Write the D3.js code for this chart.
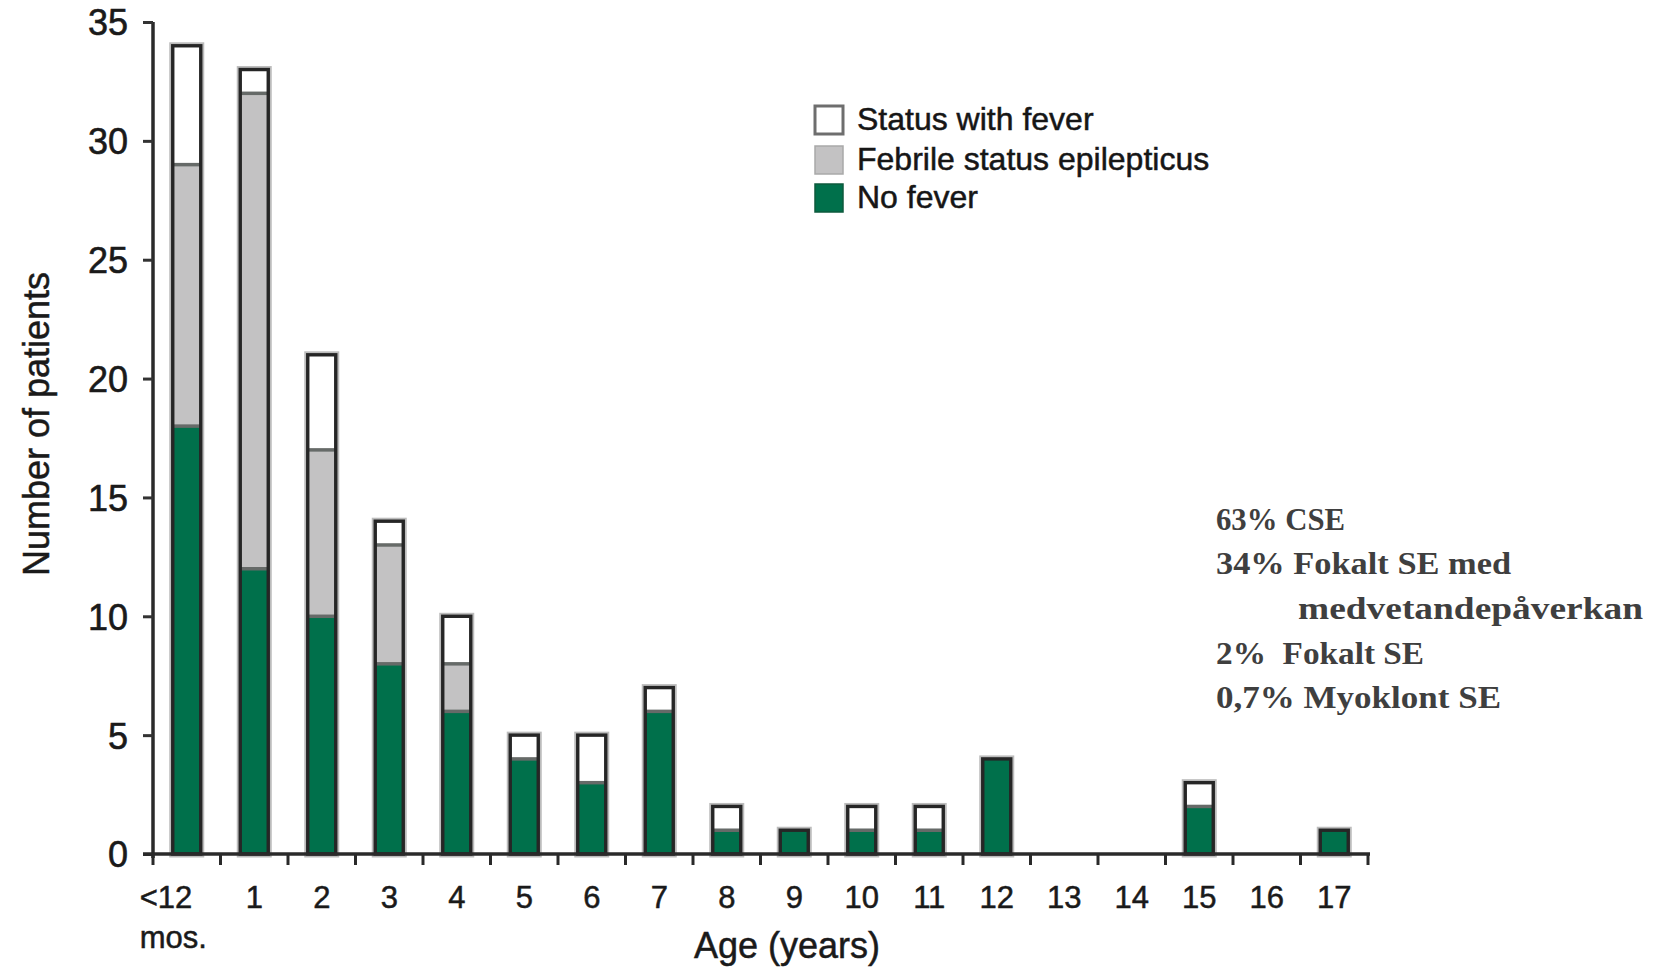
<!DOCTYPE html>
<html>
<head>
<meta charset="utf-8">
<script src="https://cdn.jsdelivr.net/npm/d3@7"></script>
<style>
  html, body { margin: 0; padding: 0; background: #fff; }
  svg { display: block; }
  text { white-space: pre; }
</style>
</head>
<body>
<svg id="chart" width="1672" height="968"></svg>
<script>
// ---------- DATA ----------
const categories = ["<12 mos.", "1", "2", "3", "4", "5", "6", "7", "8", "9", "10", "11", "12", "13", "14", "15", "16", "17"];
const noFever         = [18, 12, 10, 8, 6, 4, 3, 6, 1, 1, 1, 1, 4, 0, 0, 2, 0, 1];
const febrileSE       = [11, 20,  7, 5, 2, 0, 0, 0, 0, 0, 0, 0, 0, 0, 0, 0, 0, 0];
const statusWithFever = [ 5,  1,  4, 1, 2, 1, 2, 1, 1, 0, 1, 1, 0, 0, 0, 1, 0, 0];
const yTicks = [0, 5, 10, 15, 20, 25, 30, 35];
const seriesKeys = ["noFever", "febrileSE", "statusWithFever"];
const legendLabels = ["Status with fever", "Febrile status epilepticus", "No fever"];
const legendKeys = ["statusWithFever", "febrileSE", "noFever"];
const xTitle = "Age (years)";
const yTitle = "Number of patients";
const noteLines = ["63% CSE", "34% Fokalt SE med", "medvetandepåverkan", "2%  Fokalt SE", "0,7% Myoklont SE"];

// ---------- STYLE ----------
const colors = { noFever: "#00704b", febrileSE: "#c3c2c3", statusWithFever: "#ffffff" };
const sans = "'Liberation Sans', Arial, sans-serif";
const serif = "'Liberation Serif', 'Times New Roman', serif";
const ink = "#1a1a1a";

const rows = categories.map((c, i) => ({
  cat: c, noFever: noFever[i], febrileSE: febrileSE[i], statusWithFever: statusWithFever[i]
}));

const svg = d3.select("#chart");

const x = d3.scaleBand().domain(categories).range([153, 1368]).paddingInner(0.585).paddingOuter(0.2925);
const y = d3.scaleLinear().domain([0, 35]).range([854, 22]);
const step = x.step();

const stack = d3.stack().keys(seriesKeys)(rows);

// bar halo
const totals = rows.map(r => ({ cat: r.cat, total: r.noFever + r.febrileSE + r.statusWithFever }));
svg.append("g").selectAll("rect").data(totals.filter(d => d.total > 0)).join("rect")
  .attr("x", d => x(d.cat)).attr("width", x.bandwidth())
  .attr("y", d => y(d.total)).attr("height", d => y(0) - y(d.total))
  .attr("fill", "none").attr("stroke", "#bcbcbc").attr("stroke-width", 7);

// stacked segments
svg.append("g").selectAll("g").data(stack).join("g")
  .attr("fill", d => colors[d.key])
  .selectAll("rect").data(d => d).join("rect")
  .attr("x", d => x(d.data.cat)).attr("width", x.bandwidth())
  .attr("y", d => y(d[1])).attr("height", d => y(d[0]) - y(d[1]));

// separator lines between segments
const seps = [];
stack.forEach(layer => {
  layer.forEach(d => {
    const tot = d.data.noFever + d.data.febrileSE + d.data.statusWithFever;
    if (d[1] > d[0] && d[1] < tot) seps.push({ cat: d.data.cat, v: d[1] });
  });
});
svg.append("g").selectAll("line").data(seps).join("line")
  .attr("x1", d => x(d.cat)).attr("x2", d => x(d.cat) + x.bandwidth())
  .attr("y1", d => y(d.v)).attr("y2", d => y(d.v))
  .attr("stroke", "#666a68").attr("stroke-width", 3.5);

// bar outlines
svg.append("g").selectAll("rect").data(totals.filter(d => d.total > 0)).join("rect")
  .attr("x", d => x(d.cat)).attr("width", x.bandwidth())
  .attr("y", d => y(d.total)).attr("height", d => y(0) - y(d.total))
  .attr("fill", "none").attr("stroke", "#262626").attr("stroke-width", 3.4);

// ---------- Y AXIS ----------
const yAxis = svg.append("g").attr("transform", "translate(153,0)")
  .call(d3.axisLeft(y).tickValues(yTicks).tickSize(10).tickPadding(15).tickSizeOuter(0));
yAxis.select(".domain").attr("stroke", "#2a2a2a").attr("stroke-width", 3.5)
  .attr("d", `M0,${y(35)}V${y(0) + 4}`);
yAxis.selectAll(".tick line").attr("stroke", "#333").attr("stroke-width", 3);
yAxis.selectAll(".tick text").attr("font-family", sans).attr("font-size", 36)
  .attr("fill", ink).attr("stroke", ink).attr("stroke-width", 0.6).attr("dy", "0.36em");

// ---------- X AXIS ----------
const xAxisG = svg.append("g").attr("transform", `translate(0,${y(0)})`);
xAxisG.append("line").attr("x1", 143).attr("x2", x.range()[1] + 2).attr("y1", 0).attr("y2", 0)
  .attr("stroke", "#2a2a2a").attr("stroke-width", 3.5);
const boundaries = categories.map(c => x(c) + x.bandwidth() / 2 - step / 2)
  .concat([x(categories[categories.length - 1]) + x.bandwidth() / 2 + step / 2]);
xAxisG.selectAll("line.b").data(boundaries).join("line").attr("class", "b")
  .attr("x1", d => d).attr("x2", d => d).attr("y1", 0).attr("y2", 11)
  .attr("stroke", "#2a2a2a").attr("stroke-width", 3);
const xAxis = xAxisG.append("g").call(d3.axisBottom(x).tickSize(0).tickPadding(0));
xAxis.select(".domain").remove();
xAxis.selectAll(".tick text").attr("font-family", sans).attr("font-size", 31)
  .attr("fill", ink).attr("stroke", ink).attr("stroke-width", 0.5).attr("y", 54).attr("dy", 0)
  .each(function(d) {
    const parts = d.split(" ");
    if (parts.length > 1) {
      const t = d3.select(this).text("").attr("text-anchor", "start");
      parts.forEach((p, i) => {
        t.append("tspan").attr("x", -47).attr("dy", i === 0 ? 0 : 40).text(p);
      });
    }
  });

// axis titles
svg.append("text").attr("x", 787).attr("y", 958).attr("text-anchor", "middle")
  .attr("font-family", sans).attr("font-size", 36).attr("fill", ink)
  .attr("stroke", ink).attr("stroke-width", 0.5).text(xTitle);
svg.append("text").attr("transform", "translate(49,424) rotate(-90)").attr("text-anchor", "middle")
  .attr("font-family", sans).attr("font-size", 36).attr("fill", ink)
  .attr("stroke", ink).attr("stroke-width", 0.5).text(yTitle);

// ---------- LEGEND ----------
const legend = svg.append("g");
const legBaselines = [130, 170, 208];
legendKeys.forEach((k, i) => {
  const cy = legBaselines[i] - 10;
  legend.append("rect").attr("x", 815).attr("y", cy - 14).attr("width", 28).attr("height", 28)
    .attr("fill", colors[k])
    .attr("stroke", k === "statusWithFever" ? "#6e6e6e" : (k === "febrileSE" ? "#a9a9a9" : "#0d5a3d"))
    .attr("stroke-width", k === "statusWithFever" ? 3 : 1.5);
  legend.append("text").attr("x", 857).attr("y", legBaselines[i])
    .attr("font-family", sans).attr("font-size", 32).attr("fill", "#161616")
    .attr("stroke", "#161616").attr("stroke-width", 0.5).text(legendLabels[i]);
});

// ---------- ANNOTATION ----------
const noteX = [1216, 1216, 1298, 1216, 1216];
const noteY = [530, 574, 619, 664, 708];
const noteW = [129, 295, 345, 208, 285];
const note = svg.append("g").attr("font-family", serif).attr("font-weight", "bold")
  .attr("font-size", 32).attr("fill", "#3f3f3f");
noteLines.forEach((t, i) => {
  note.append("text").attr("x", noteX[i]).attr("y", noteY[i])
    .attr("textLength", noteW[i]).attr("lengthAdjust", "spacingAndGlyphs").text(t);
});
</script>
</body>
</html>
